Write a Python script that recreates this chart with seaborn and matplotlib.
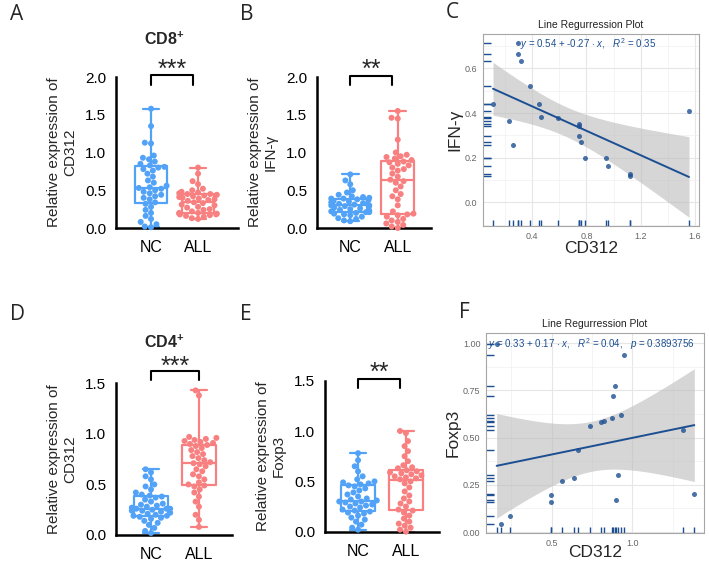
"""
Figura: expresión relativa de CD312 (NC vs ALL) y regresiones lineales.
"""

import warnings

import matplotlib
matplotlib.use("Agg")
import matplotlib.pyplot as plt
import numpy as np
import pandas as pd
import seaborn as sns

warnings.filterwarnings("ignore")

# =========================
# Datos
# =========================

grupos = ["NC", "ALL"]

# A: CD8+ / CD312
cd8_cd312_nc = [0.01, 0.02, 0.05, 0.08, 0.12, 0.16, 0.20, 0.24, 0.28, 0.32,
                0.34, 0.38, 0.40, 0.42, 0.44, 0.46, 0.48, 0.50, 0.52, 0.53,
                0.54, 0.56, 0.60, 0.63, 0.68, 0.72, 0.76, 0.78, 0.80, 0.81,
                0.83, 0.85, 0.88, 0.91, 0.93, 0.96, 1.12, 1.13, 1.35, 1.58]
cd8_cd312_all = [0.12, 0.13, 0.15, 0.16, 0.17, 0.18, 0.18, 0.19, 0.19, 0.20,
                 0.20, 0.22, 0.24, 0.25, 0.27, 0.28, 0.30, 0.31, 0.33, 0.34,
                 0.36, 0.37, 0.38, 0.39, 0.40, 0.41, 0.42, 0.43, 0.44, 0.45,
                 0.45, 0.46, 0.47, 0.48, 0.50, 0.52, 0.58, 0.62, 0.72, 0.80]

# B: IFN-γ
ifng_nc = [0.09, 0.10, 0.12, 0.13, 0.15, 0.17, 0.18, 0.19, 0.20, 0.21,
           0.21, 0.22, 0.23, 0.24, 0.25, 0.26, 0.27, 0.28, 0.29, 0.30,
           0.30, 0.31, 0.32, 0.33, 0.34, 0.35, 0.36, 0.37, 0.38, 0.39,
           0.39, 0.40, 0.41, 0.42, 0.44, 0.47, 0.50, 0.58, 0.63, 0.71]
ifng_all = [0.00, 0.02, 0.04, 0.06, 0.08, 0.10, 0.12, 0.15, 0.17, 0.18,
            0.19, 0.22, 0.30, 0.38, 0.42, 0.45, 0.50, 0.55, 0.60, 0.62,
            0.64, 0.68, 0.72, 0.76, 0.78, 0.80, 0.83, 0.85, 0.87, 0.88,
            0.90, 0.92, 0.94, 0.95, 0.97, 1.00, 1.17, 1.45, 1.46, 1.55]

# D: CD4+ / CD312
cd4_cd312_nc = [0.02, 0.04, 0.07, 0.10, 0.12, 0.14, 0.16, 0.17, 0.18, 0.19,
                0.19, 0.20, 0.21, 0.22, 0.23, 0.24, 0.24, 0.25, 0.26, 0.26,
                0.26, 0.27, 0.28, 0.29, 0.30, 0.31, 0.33, 0.35, 0.37, 0.38,
                0.39, 0.40, 0.42, 0.45, 0.48, 0.50, 0.55, 0.58, 0.62, 0.65]
cd4_cd312_all = [0.08, 0.15, 0.20, 0.28, 0.33, 0.38, 0.42, 0.45, 0.48, 0.49,
                 0.50, 0.52, 0.55, 0.58, 0.60, 0.63, 0.65, 0.68, 0.70, 0.71,
                 0.72, 0.74, 0.76, 0.78, 0.80, 0.82, 0.84, 0.86, 0.88, 0.89,
                 0.90, 0.91, 0.92, 0.93, 0.94, 0.95, 0.96, 0.97, 1.38, 1.43]

# E: Foxp3
foxp3_nc = [0.02, 0.04, 0.07, 0.10, 0.12, 0.14, 0.16, 0.18, 0.19, 0.20,
            0.21, 0.22, 0.24, 0.25, 0.26, 0.27, 0.28, 0.29, 0.30, 0.30,
            0.31, 0.32, 0.33, 0.35, 0.37, 0.39, 0.41, 0.43, 0.45, 0.46,
            0.47, 0.48, 0.49, 0.50, 0.52, 0.55, 0.60, 0.65, 0.71, 0.78]
foxp3_all = [0.00, 0.02, 0.04, 0.06, 0.08, 0.10, 0.13, 0.16, 0.19, 0.21,
             0.22, 0.25, 0.28, 0.30, 0.33, 0.36, 0.40, 0.44, 0.48, 0.50,
             0.52, 0.53, 0.54, 0.55, 0.56, 0.57, 0.58, 0.59, 0.60, 0.61,
             0.63, 0.64, 0.66, 0.70, 0.75, 0.80, 0.85, 0.90, 0.98, 1.00]

# C: regresión CD312 vs IFN-γ
reg_c_cd312 = [0.109, 0.227, 0.255, 0.292, 0.292, 0.316, 0.383, 0.449, 0.467, 0.590,
               0.743, 0.743, 0.747, 0.760, 0.787, 0.942, 0.957, 1.120, 1.122, 1.558]
reg_c_ifng = [0.439, 0.364, 0.255, 0.712, 0.663, 0.634, 0.521, 0.439, 0.384, 0.379,
              0.352, 0.343, 0.299, 0.272, 0.199, 0.197, 0.161, 0.127, 0.118, 0.407]

# F: regresión CD312 vs Foxp3
reg_f_cd312 = [0.159, 0.184, 0.240, 0.496, 0.496, 0.564, 0.638, 0.665, 0.738, 0.804,
               0.826, 0.876, 0.882, 0.890, 0.901, 0.909, 0.932, 0.946, 1.316, 1.384]
reg_f_foxp3 = [0.996, 0.044, 0.083, 0.194, 0.160, 0.272, 0.286, 0.434, 0.563, 0.580,
               0.586, 0.601, 0.720, 0.771, 0.168, 0.302, 0.621, 0.938, 0.538, 0.201]

# =========================
# Estilo
# =========================

AZUL = "#52a2f7"
ROJO = "#f88080"
AZUL_OSC = "#1c4f92"
W, H = 709, 562
T_975_DF18 = 2.100922  # cuantil t de Student para IC 95 % (n = 20)

sns.set_style("white")
plt.rcParams["font.family"] = ["Liberation Sans", "DejaVu Sans"]
plt.rcParams["mathtext.fontset"] = "custom"
plt.rcParams["mathtext.rm"] = "Liberation Sans"
plt.rcParams["mathtext.it"] = "Liberation Sans:italic"
plt.rcParams["mathtext.bf"] = "Liberation Sans:bold"


def rect_px(left, top, right, bottom):
    """Convierte un rectángulo en píxeles (origen arriba-izquierda) a fracción de figura."""
    return [left / W, 1 - bottom / H, (right - left) / W, (bottom - top) / H]


# --------------------------------------------------------
# 1. Panel de cajas con puntos (NC vs ALL)
# --------------------------------------------------------

def panel_caja(fig, rect, nc, all_, ylim, yticks, ylabel, xlim, titulo, estrellas,
               corchete):
    ax = fig.add_axes(rect)
    df = pd.DataFrame({"grupo": ["NC"] * len(nc) + ["ALL"] * len(all_),
                       "valor": nc + all_})
    sns.boxplot(data=df, x="grupo", y="valor", hue="grupo", order=grupos,
                hue_order=grupos, palette=[AZUL, ROJO], fill=False, whis=(0, 100),
                width=0.7, linewidth=1.6, showfliers=False, legend=False, ax=ax)
    sns.swarmplot(data=df, x="grupo", y="valor", hue="grupo", order=grupos,
                  hue_order=grupos, palette=[AZUL, ROJO], size=4.3, legend=False,
                  clip_on=False, ax=ax)

    ax.set_xlim(*xlim)
    ax.set_ylim(*ylim)
    ax.set_yticks(yticks)
    ax.set_yticklabels([f"{t:.1f}" for t in yticks])
    ax.set_xlabel("")
    ax.set_ylabel(ylabel, fontsize=11, labelpad=6, linespacing=1.15)
    for lado in ["top", "right"]:
        ax.spines[lado].set_visible(False)
    for lado in ["left", "bottom"]:
        ax.spines[lado].set_linewidth(1.8)
        ax.spines[lado].set_color("black")
    ax.tick_params(axis="both", direction="out", length=5, width=1.6,
                   colors="black", labelsize=11)
    ax.tick_params(axis="x", labelsize=11.5)
    ax.tick_params(axis="y", pad=2)

    # corchete de significancia
    x0, x1, yb, yt, ys = corchete
    ax.plot([x0, x0, x1, x1], [yb, yt, yt, yb], color="black", lw=1.5,
            clip_on=False)
    ax.annotate(estrellas, xy=((x0 + x1) / 2, ys), xytext=(0, -10.5),
                textcoords="offset points", ha="center", va="baseline",
                fontsize=18, annotation_clip=False)
    if titulo:
        ax.text(0.28, titulo[1], titulo[0], ha="center", va="center",
                fontsize=11.5, clip_on=False)
    return ax


# --------------------------------------------------------
# 2. Panel de regresión lineal
# --------------------------------------------------------

def panel_regresion(fig, rect, x, y, xlim, ylim, xticks, yticks, xminor, yminor,
                    fmt_y, ylabel, texto, pos_texto, pad_x=0):
    ax = fig.add_axes(rect)
    ax.set_axisbelow(True)
    x = np.array(x)
    y = np.array(y)

    # banda de confianza del 95 % del ajuste lineal (como geom_smooth(method = lm))
    pend, inter = np.polyfit(x, y, 1)
    malla = np.linspace(x.min(), x.max(), 200)
    ajuste = inter + pend * malla
    resid = y - (inter + pend * x)
    s = np.sqrt(np.sum(resid ** 2) / (len(x) - 2))
    se = s * np.sqrt(1 / len(x) + (malla - x.mean()) ** 2 / np.sum((x - x.mean()) ** 2))
    ax.fill_between(malla, ajuste - T_975_DF18 * se, ajuste + T_975_DF18 * se,
                    color="#bdbdbd", alpha=0.62, lw=0, zorder=3)

    sns.regplot(x=x, y=y, ax=ax, color=AZUL_OSC, ci=None,
                scatter_kws={"s": 13, "linewidths": 0, "zorder": 4},
                line_kws={"lw": 1.4, "zorder": 5})
    sns.rugplot(x=x, ax=ax, height=0.03, color=AZUL_OSC, lw=1.1)
    sns.rugplot(y=y, ax=ax, height=0.035, color=AZUL_OSC, lw=1.1)

    ax.set_xlim(*xlim)
    ax.set_ylim(*ylim)
    ax.set_xticks(xticks)
    ax.set_xticklabels([f"{t:.1f}" for t in xticks])
    ax.set_yticks(yticks)
    ax.set_yticklabels([fmt_y.format(t) for t in yticks])
    ax.set_xticks(xminor, minor=True)
    ax.set_yticks(yminor, minor=True)
    ax.grid(which="major", color="#e6e6e6", lw=0.8)
    ax.grid(which="minor", color="#f0f0f0", lw=0.5)
    ax.tick_params(which="major", length=2.5, width=0.6, colors="#8c8c8c",
                   labelsize=6.5, labelcolor="#666666", pad=1.5)
    ax.tick_params(which="minor", length=0)
    for sp in ax.spines.values():
        sp.set_color("#a6a6a6")
        sp.set_linewidth(0.8)
    ax.set_title("Line Regurression Plot", fontsize=7.5, pad=4, color="#222222")
    ax.set_xlabel("CD312", fontsize=12.5, labelpad=pad_x)
    ax.set_ylabel(ylabel, fontsize=12.5, labelpad=2)
    ax.text(pos_texto[0], pos_texto[1], texto, ha="left", va="center",
            fontsize=7, color=AZUL_OSC, zorder=6)
    return ax


fig = plt.figure(figsize=(W / 100, H / 100), dpi=100)
fig.patch.set_facecolor("white")

# A
panel_caja(fig, rect_px(116, 77, 238, 228), cd8_cd312_nc, cd8_cd312_all,
           (0, 2.0), [0, 0.5, 1.0, 1.5, 2.0], "Relative expression of\nCD312",
           (-0.745, 1.85), (r"$\mathbf{CD8^{+}}$", 2.5), "***",
           (0, 0.9, 1.9, 2.02, 2.2))
# B
panel_caja(fig, rect_px(317, 77, 431, 228), ifng_nc, ifng_all,
           (0, 2.0), [0, 0.5, 1.0, 1.5, 2.0], "Relative expression of\nIFN-γ",
           (-0.7, 1.7), None, "**", (0, 0.88, 1.89, 2.01, 2.2))
# D
panel_caja(fig, rect_px(116, 383.3, 232, 535), cd4_cd312_nc, cd4_cd312_all,
           (0, 1.5), [0, 0.5, 1.0, 1.5], "Relative expression of\nCD312",
           (-0.73, 1.69), (r"$\mathbf{CD4^{+}}$", 1.9), "***",
           (0, 1.0, 1.533, 1.625, 1.74))
# E
panel_caja(fig, rect_px(325, 380.7, 439, 531.7), foxp3_nc, foxp3_all,
           (0, 1.5), [0, 0.5, 1.0, 1.5], "Relative expression of\nFoxp3",
           (-0.69, 1.69), None, "**", (0, 0.87, 1.43, 1.516, 1.65))

# C
panel_regresion(fig, rect_px(483, 34, 699, 226), reg_c_cd312, reg_c_ifng,
                (0.035, 1.632), (-0.106, 0.754), [0.4, 0.8, 1.2, 1.6],
                [0.0, 0.2, 0.4, 0.6], [0.2, 0.6, 1.0, 1.4],
                [-0.1, 0.1, 0.3, 0.5, 0.7], "{:.1f}", "IFN-γ",
                r"$y$ = 0.54 + -0.27 $\cdot$ $x$,   $R^2$ = 0.35", (0.31, 0.71))
# F
panel_regresion(fig, rect_px(486, 333, 704, 533), reg_f_cd312, reg_f_foxp3,
                (0.093, 1.444), (-0.005, 1.053), [0.5, 1.0],
                [0.0, 0.25, 0.5, 0.75, 1.0], [0.25, 0.75, 1.25],
                [0.125, 0.375, 0.625, 0.875], "{:.2f}", "Foxp3",
                r"$y$ = 0.33 + 0.17 $\cdot$ $x$,   $R^2$ = 0.04,   $p$ = 0.3893756",
                (0.107, 0.996), pad_x=-1.5)

# letras de panel
for letra, (px, py) in {"A": (10, 14), "B": (240, 14), "C": (446, 12),
                        "D": (10, 315), "E": (240, 315), "F": (459, 313)}.items():
    fig.text(px / W, 1 - py / H, letra, fontsize=15, ha="left", va="center",
             family=["Open Sans", "DejaVu Sans"])

fig.savefig("out.png", dpi=100)
